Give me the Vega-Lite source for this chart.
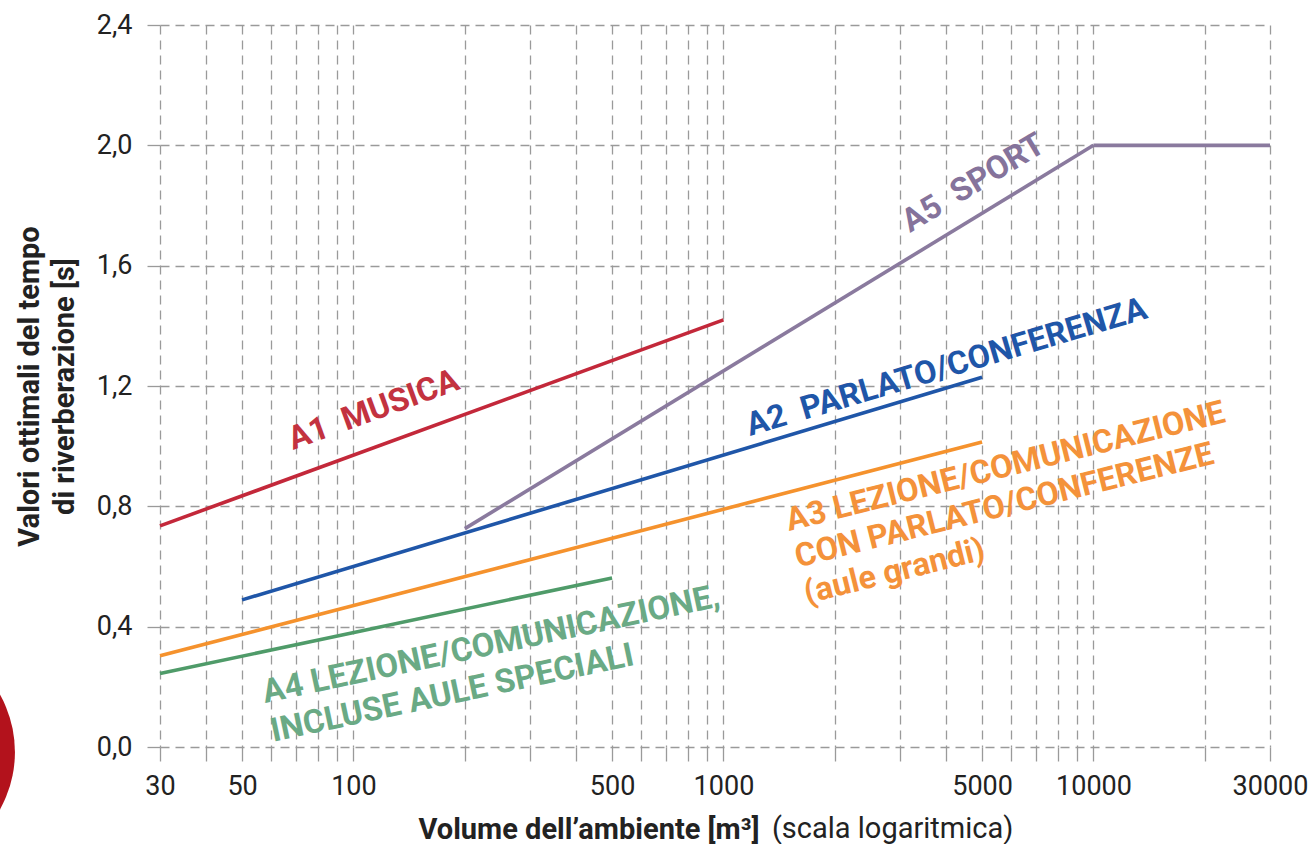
{
  "$schema": "https://vega.github.io/schema/vega-lite/v6.json",
  "width": 1110,
  "height": 722,
  "autosize": "none",
  "padding": {"left": 160, "top": 25, "right": 44, "bottom": 97},
  "background": "#ffffff",
  "config": {"view": {"stroke": null}, "font": "Roboto", "text": {"font": "Roboto"}},
  "datasets": {
    "lines": [
      {"series": "A1", "V": 30, "T": 0.735}, {"series": "A1", "V": 1000, "T": 1.42},
      {"series": "A2", "V": 50, "T": 0.489}, {"series": "A2", "V": 5000, "T": 1.229},
      {"series": "A3", "V": 30, "T": 0.303}, {"series": "A3", "V": 5000, "T": 1.014},
      {"series": "A4", "V": 30, "T": 0.244}, {"series": "A4", "V": 500, "T": 0.562},
      {"series": "A5", "V": 200, "T": 0.726}, {"series": "A5", "V": 10000, "T": 2.0},
      {"series": "A5b", "V": 10000, "T": 2.0}, {"series": "A5b", "V": 30000, "T": 2.0}
    ],
    "labels": [
      {"id": "A1", "V": 68.6, "T": 0.987, "text": "A1\u00a0 MUSICA"},
      {"id": "A2", "V": 1179, "T": 1.034, "text": "A2\u00a0 PARLATO/CONFERENZA"},
      {"id": "A3", "V": 1503, "T": 0.718, "text": ["A3 LEZIONE/COMUNICAZIONE", "CON PARLATO/CONFERENZE", "(aule grandi)"]},
      {"id": "A4", "V": 57.7, "T": 0.146, "text": ["A4 LEZIONE/COMUNICAZIONE,", "INCLUSE AULE SPECIALI"]},
      {"id": "A5", "V": 3192, "T": 1.709, "text": "A5\u00a0 SPORT"}
    ],
    "deco": [{"V": 5.84, "T": -0.0166}],
    "note": [{"V": 1352, "T": -0.3025, "text": "(scala logaritmica)"}]
  },
  "encoding": {
    "x": {
      "field": "V", "type": "quantitative",
      "scale": {"type": "log", "domain": [30, 30000], "nice": false},
      "axis": {
        "values": [30, 40, 50, 60, 70, 80, 90, 100, 200, 300, 400, 500, 600, 700, 800, 900, 1000, 2000, 3000, 4000, 5000, 6000, 7000, 8000, 9000, 10000, 20000, 30000],
        "format": "d",
        "labelExpr": "indexof([30,50,100,500,1000,5000,10000,30000], datum.value) >= 0 ? datum.label : ''",
        "labelFontSize": 27, "labelColor": "#222222", "labelPadding": 12,
        "labelOverlap": false, "labelFlush": false, "labelBound": false,
        "domain": false,
        "grid": true, "gridColor": "#9a9a9a", "gridDash": [9, 6], "gridWidth": 1.3,
        "ticks": true, "tickSize": 14, "tickColor": "#9a9a9a", "tickWidth": 1.3,
        "title": "Volume dell’ambiente [m³]", "titleFontSize": 29, "titleFontWeight": "bold", "titleColor": "#222222",
        "titleAlign": "left", "titleBaseline": "alphabetic", "titleX": 258, "titleY": 91
      }
    },
    "y": {
      "field": "T", "type": "quantitative",
      "scale": {"domain": [0, 2.4], "nice": false, "zero": false},
      "axis": {
        "values": [0, 0.4, 0.8, 1.2, 1.6, 2.0, 2.4],
        "labelExpr": "replace(format(datum.value, '.1f'), '.', ',')",
        "labelFontSize": 27, "labelColor": "#222222", "labelPadding": 15,
        "domain": false,
        "grid": true, "gridColor": "#9a9a9a", "gridDash": [9, 6], "gridWidth": 1.3,
        "ticks": true, "tickSize": 13, "tickColor": "#9a9a9a", "tickWidth": 1.3,
        "title": ["Valori ottimali del tempo", "di riverberazione [s]"],
        "titleFontSize": 29, "titleFontWeight": "bold", "titleColor": "#222222",
        "titleAngle": 270, "titleAlign": "center", "titleBaseline": "alphabetic",
        "titleX": -122, "titleY": 361, "titleLineHeight": 35
      }
    }
  },
  "layer": [
    {
      "data": {"name": "deco"},
      "mark": {"type": "point", "shape": "circle", "filled": true, "size": 55600, "color": "#b3121c", "opacity": 1, "strokeWidth": 0}
    },
    {
      "data": {"name": "lines"},
      "mark": {"type": "line", "strokeCap": "butt"},
      "encoding": {
        "color": {"field": "series", "type": "nominal", "legend": null,
          "scale": {"domain": ["A1", "A2", "A3", "A4", "A5", "A5b"], "range": ["#c3283a", "#1f56a8", "#f5922d", "#4f9b69", "#8a7a9e", "#8a7a9e"]}},
        "strokeWidth": {"field": "series", "type": "nominal", "legend": null,
          "scale": {"domain": ["A1", "A2", "A3", "A4", "A5", "A5b"], "range": [3.6, 3.6, 3.6, 3.6, 3.6, 5]}}
      }
    },
    {
      "data": {"name": "labels"},
      "transform": [{"filter": "datum.id === 'A1'"}],
      "mark": {"type": "text", "align": "left", "baseline": "alphabetic", "angle": 340, "fontSize": 32.5, "fontWeight": "bold", "color": "#c3323f"},
      "encoding": {"text": {"field": "text", "type": "nominal"}}
    },
    {
      "data": {"name": "labels"},
      "transform": [{"filter": "datum.id === 'A2'"}],
      "mark": {"type": "text", "align": "left", "baseline": "alphabetic", "angle": 343.5, "fontSize": 32.5, "fontWeight": "bold", "color": "#1f56a8"},
      "encoding": {"text": {"field": "text", "type": "nominal"}}
    },
    {
      "data": {"name": "labels"},
      "transform": [{"filter": "datum.id === 'A3'"}],
      "mark": {"type": "text", "align": "left", "baseline": "alphabetic", "angle": 346, "fontSize": 32.5, "fontWeight": "bold", "color": "#f4923a", "lineHeight": 37.5},
      "encoding": {"text": {"field": "text", "type": "nominal"}}
    },
    {
      "data": {"name": "labels"},
      "transform": [{"filter": "datum.id === 'A4'"}],
      "mark": {"type": "text", "align": "left", "baseline": "alphabetic", "angle": 348, "fontSize": 33, "fontWeight": "bold", "color": "#6aaa85", "lineHeight": 39.5},
      "encoding": {"text": {"field": "text", "type": "nominal"}}
    },
    {
      "data": {"name": "labels"},
      "transform": [{"filter": "datum.id === 'A5'"}],
      "mark": {"type": "text", "align": "left", "baseline": "alphabetic", "angle": 329, "fontSize": 32.5, "fontWeight": "bold", "color": "#85739b"},
      "encoding": {"text": {"field": "text", "type": "nominal"}}
    },
    {
      "data": {"name": "note"},
      "mark": {"type": "text", "align": "left", "baseline": "alphabetic", "fontSize": 29, "fontWeight": "normal", "color": "#222222"},
      "encoding": {"text": {"field": "text", "type": "nominal"}}
    }
  ]
}
